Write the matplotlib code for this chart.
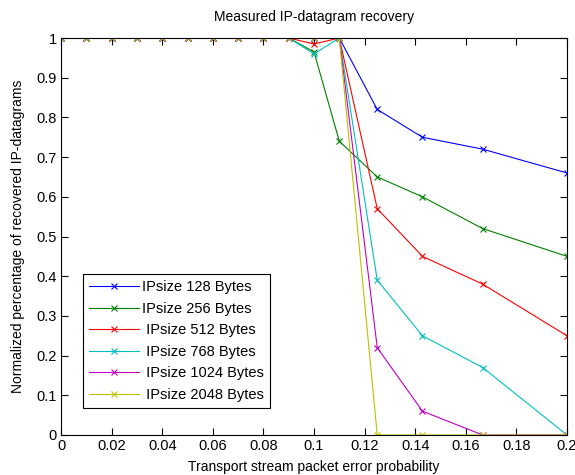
import numpy as np
import matplotlib
matplotlib.use('Agg')
import matplotlib.pyplot as plt

plt.rcParams['font.family'] = ['Liberation Sans', 'DejaVu Sans']

# packet error probability (x axis)
error_prob = [0, 0.01, 0.02, 0.03, 0.04, 0.05, 0.06, 0.07, 0.08, 0.09, 0.10,
              0.11, 1/8, 1/7, 1/6, 1/5]

rec_128 = [1, 1, 1, 1, 1, 1, 1, 1, 1, 1, 1.0, 1.0, 0.82, 0.75, 0.72, 0.66]
rec_256 = [1, 1, 1, 1, 1, 1, 1, 1, 1, 1, 0.965, 0.74, 0.65, 0.60, 0.52, 0.45]
rec_512 = [1, 1, 1, 1, 1, 1, 1, 1, 1, 1, 0.985, 1.0, 0.57, 0.45, 0.38, 0.25]
rec_768 = [1, 1, 1, 1, 1, 1, 1, 1, 1, 1, 0.96, 1.0, 0.39, 0.25, 0.17, 0.0]
rec_1024 = [1, 1, 1, 1, 1, 1, 1, 1, 1, 1, 1.0, 1.0, 0.22, 0.06, 0.0, 0.0]
rec_2048 = [1, 1, 1, 1, 1, 1, 1, 1, 1, 1, 1.0, 1.0, 0.0, 0.0, 0.0, 0.0]

labels = ['IPsize 128 Bytes', 'IPsize 256 Bytes', ' IPsize 512 Bytes',
          ' IPsize 768 Bytes', ' IPsize 1024 Bytes', ' IPsize 2048 Bytes']
colors = ['#0000ff', '#008000', '#ff0000', '#00bfbf', '#bf00bf', '#bfbf00']
series = [rec_128, rec_256, rec_512, rec_768, rec_1024, rec_2048]

fig = plt.figure(figsize=(5.75, 4.75), dpi=100)
ax = fig.add_axes([61/575, 40/475, 506/575, 397/475])

for vals, col, lab in zip(series, colors, labels):
    ax.plot(error_prob, vals, '-x', color=col, linewidth=0.8,
            markersize=4, markeredgewidth=0.8, label=lab)

ax.set_xlim(0, 0.2)
ax.set_ylim(0, 1)
ax.set_xticks(np.arange(0, 0.201, 0.02))
ax.set_yticks(np.arange(0, 1.01, 0.1))
ax.set_xticklabels(['0', '0.02', '0.04', '0.06', '0.08', '0.1', '0.12',
                    '0.14', '0.16', '0.18', '0.2'])
ax.set_yticklabels(['0', '0.1', '0.2', '0.3', '0.4', '0.5', '0.6', '0.7',
                    '0.8', '0.9', '1'])
ax.tick_params(direction='in', top=True, right=True, labelsize=10.5,
               length=5, width=0.8, pad=3)
for s in ax.spines.values():
    s.set_linewidth(0.8)

ax.set_title('Measured IP-datagram recovery', fontsize=10, pad=12)
ax.set_xlabel('Transport stream packet error probability', fontsize=10, labelpad=5)
ax.set_ylabel('Normalized percentage of recovered IP-datagrams', fontsize=10,
              labelpad=8)

leg = ax.legend(loc='lower left', bbox_to_anchor=(0.03, 0.05), fontsize=10.5,
                handlelength=3.4, handletextpad=0.2, labelspacing=0.52,
                borderpad=0.4, fancybox=False, framealpha=1, edgecolor='black')
leg.get_frame().set_linewidth(0.8)

fig.savefig('out.png', dpi=100)
